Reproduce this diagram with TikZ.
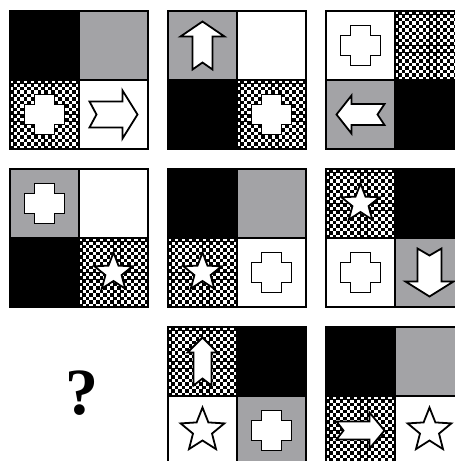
\documentclass[tikz,border=0pt]{standalone}
\usepackage{fontspec}
\setmainfont{Liberation Serif}
\definecolor{mygray}{RGB}{163,163,166}
\tikzset{
  shapeline/.style={draw=black, line width=1.8pt, fill=white, line join=miter},
  boxline/.style={draw=black, line width=2pt},
  divline/.style={draw=black, line width=1.5pt},
  qmark/.style={font=\bfseries\fontsize{66}{66}\selectfont, inner sep=0pt}
}
\newcommand\mychecker[2]{%
  \fill[black] (#1,#2) rectangle ++(69,69);
  \foreach \i in {0,...,9}{\foreach \j in {0,...,9}{
    \fill[white] ({#1+6.9*\i+0.1},{#2+6.9*\j+0.1}) rectangle ++(3.3,3.3);
    \fill[white] ({#1+6.9*\i+3.55},{#2+6.9*\j+3.55}) rectangle ++(3.3,3.3);
  }}}
\newcommand\myarrow[5]{%
  \begin{scope}[shift={(#1,#2)},rotate=#3]
  \draw[shapeline] (24,0) -- (9,#4) -- (9,#5) -- (-24,#5) -- (-17,0) -- (-24,-#5) -- (9,-#5) -- (9,-#4) -- cycle;
  \end{scope}}
\newcommand\mycross[2]{%
  \draw[shapeline,shift={(#1,#2)}] (-10,-20) -- (10,-20) -- (10,-10) -- (20,-10) -- (20,10) -- (10,10) -- (10,20) -- (-10,20) -- (-10,10) -- (-20,10) -- (-20,-10) -- (-10,-10) -- cycle;}
\newcommand\mystar[4]{%
  \draw[shapeline,shift={(#1,#2)}] (-90:#3) -- (-54:#4) -- (-18:#3) -- (18:#4) -- (54:#3) -- (90:#4) -- (126:#3) -- (162:#4) -- (198:#3) -- (234:#4) -- cycle;}
\newcommand\myframe[2]{%
  \draw[divline] ({#1+69},#2) -- ++(0,138);
  \draw[divline] (#1,{#2+69}) -- ++(138,0);
  \draw[boxline] (#1,#2) rectangle ++(138,138);}
\begin{document}
\begin{tikzpicture}[x=1pt,y=-1pt]
\useasboundingbox (0,0) rectangle (455,461);
\clip (0,0) rectangle (455,461);
\fill[white] (0,0) rectangle (455,461);
% Box 1
\fill[black] (10,11) rectangle ++(69,69);
\fill[mygray] (79,11) rectangle ++(69,69);
\mychecker{10}{80}
\mycross{44.5}{114.5}
\myarrow{113.5}{114.5}{0}{24}{13}
\myframe{10}{11}
% Box 2
\fill[mygray] (168,11) rectangle ++(69,69);
\fill[black] (168,80) rectangle ++(69,69);
\mychecker{237}{80}
\myarrow{202.5}{45.5}{90}{22}{10}
\mycross{271.5}{114.5}
\myframe{168}{11}
% Box 3
\mychecker{395}{11}
\fill[mygray] (326,80) rectangle ++(69,69);
\fill[black] (395,80) rectangle ++(69,69);
\mycross{360.5}{45.5}
\myarrow{360.5}{114.5}{180}{19}{10.5}
\myframe{326}{11}
% Box 4
\fill[mygray] (10,169) rectangle ++(69,69);
\fill[black] (10,238) rectangle ++(69,69);
\mychecker{79}{238}
\mycross{44.5}{203.5}
\mystar{113.5}{272.5}{20}{8.5}
\myframe{10}{169}
% Box 5
\fill[black] (168,169) rectangle ++(69,69);
\fill[mygray] (237,169) rectangle ++(69,69);
\mychecker{168}{238}
\mystar{202.5}{272.5}{20}{8.5}
\mycross{271.5}{272.5}
\myframe{168}{169}
% Box 6
\mychecker{326}{169}
\fill[black] (395,169) rectangle ++(69,69);
\fill[mygray] (395,238) rectangle ++(69,69);
\mystar{360.5}{203.5}{20}{8.5}
\mycross{360.5}{272.5}
\myarrow{429.5}{272.5}{-90}{24}{12}
\myframe{326}{169}
% Question mark
\node[qmark] (q) at (82,393) {?};
% Box 8
\mychecker{168}{327}
\fill[black] (237,327) rectangle ++(69,69);
\fill[mygray] (237,396) rectangle ++(69,69);
\myarrow{202.5}{361.5}{90}{15}{9}
\mystar{202.5}{430.5}{23}{10}
\mycross{271.5}{430.5}
\myframe{168}{327}
% Box 9
\fill[black] (326,327) rectangle ++(69,69);
\fill[mygray] (395,327) rectangle ++(69,69);
\mychecker{326}{396}
\myarrow{360.5}{430.5}{0}{18}{9}
\mystar{429.5}{430.5}{23}{10}
\myframe{326}{327}
\end{tikzpicture}
\end{document}
